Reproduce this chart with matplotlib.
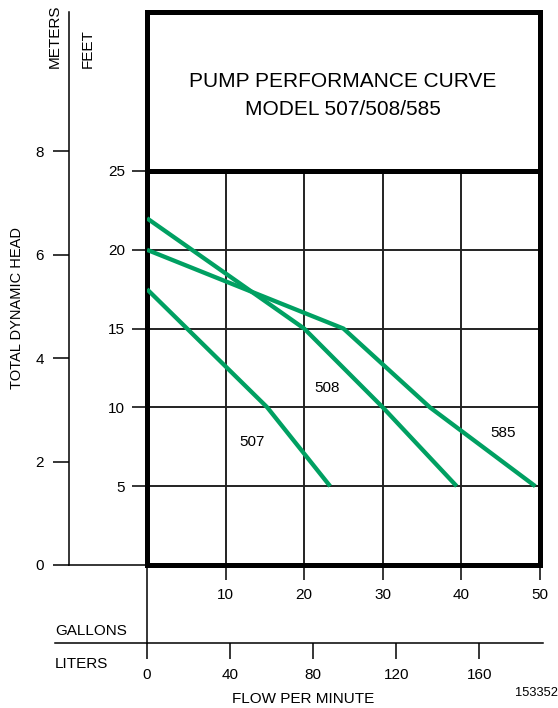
import matplotlib.pyplot as plt

plt.rcParams['font.family'] = ['Liberation Sans', 'DejaVu Sans']

# data (gallons per minute vs total dynamic head in feet)
gal_ticks = [10, 20, 30, 40, 50]
feet_ticks = [5, 10, 15, 20, 25]
meter_ticks = [0, 2, 4, 6, 8]
liter_ticks = [0, 40, 80, 120, 160]

gal_507 = [0, 15.3, 23.3]
ft_507 = [17.5, 10, 5]
gal_508 = [0, 20, 30, 39.4]
ft_508 = [22, 15, 10, 5]
gal_585 = [0, 25, 36, 49.4]
ft_585 = [20, 15, 10, 5]

curve_labels = ['507', '508', '585']
label_gal = [13.4, 22.9, 45.3]
label_ft = [7.8, 11.2, 8.4]

GREEN = '#00a062'
W, H = 558, 708
FS = 11


def box(x0, y0, x1, y1):
    # pixel box (top-left origin) -> figure fraction rect
    return [x0 / W, 1 - y1 / H, (x1 - x0) / W, (y1 - y0) / H]


fig = plt.figure(figsize=(W / 100, H / 100), dpi=100)

# main chart
ax = fig.add_axes(box(147, 171, 540, 565))
ax.set_xlim(0, 50)
ax.set_ylim(0, 25)
for g in gal_ticks[:-1]:
    ax.axvline(g, color='#222222', lw=1.4, zorder=1)
for f in feet_ticks[:-1]:
    ax.axhline(f, color='#222222', lw=1.4, zorder=1)
for gx, fy in [(gal_507, ft_507), (gal_508, ft_508), (gal_585, ft_585)]:
    ax.plot(gx, fy, color=GREEN, lw=3.1, solid_capstyle='butt',
            solid_joinstyle='round', zorder=3)
for lab, gx, fy in zip(curve_labels, label_gal, label_ft):
    ax.text(gx, fy, lab, ha='center', va='center', fontsize=FS)
for s in ax.spines.values():
    s.set_linewidth(3.6)
ax.set_xticks(gal_ticks)
ax.set_yticks(feet_ticks)
ax.tick_params(axis='x', direction='out', length=10.8, width=1.1, pad=5.5, labelsize=FS)
ax.tick_params(axis='y', direction='out', length=10.8, width=1.1, pad=5, labelsize=FS)

# title box
axt = fig.add_axes(box(147, 12, 540, 171))
axt.set_xticks([])
axt.set_yticks([])
for s in axt.spines.values():
    s.set_linewidth(3.6)
fig.text(343 / W, 1 - 87 / H, 'PUMP PERFORMANCE CURVE', ha='center', va='baseline', fontsize=15)
fig.text(343 / W, 1 - 115 / H, 'MODEL 507/508/585', ha='center', va='baseline', fontsize=15)

# meters axis
top_m = 25 / 394 * 553 * 0.3048
axm = fig.add_axes(box(69, 12, 147, 565))
axm.set_ylim(0, top_m)
axm.set_xlim(0, 1)
axm.spines['top'].set_visible(False)
axm.spines['right'].set_visible(False)
axm.spines['left'].set_linewidth(1.1)
axm.spines['bottom'].set_linewidth(1.1)
axm.set_xticks([])
axm.set_yticks(meter_ticks)
axm.tick_params(axis='y', direction='out', length=11.5, width=1.1, pad=6.5, labelsize=FS)
axm.patch.set_alpha(0)

# liters axis
l_per_px = 50 * 3.785411784 / 393
axl = fig.add_axes(box(55, 565, 543, 643))
axl.set_xlim(-(147 - 55) * l_per_px, (543 - 147) * l_per_px)
axl.set_ylim(0, 1)
for k in ['top', 'right', 'left']:
    axl.spines[k].set_visible(False)
axl.spines['bottom'].set_linewidth(1.1)
axl.plot([0, 0], [0, 1], color='black', lw=1.1, clip_on=False)
axl.set_yticks([])
axl.set_xticks(liter_ticks)
axl.tick_params(axis='x', direction='out', length=11.5, width=1.1, pad=6.5, labelsize=FS)
axl.patch.set_alpha(0)

# labels
fig.text(55 / W, 1 - 68 / H, 'METERS', rotation=90, ha='center', va='bottom', fontsize=FS)
fig.text(88 / W, 1 - 68 / H, 'FEET', rotation=90, ha='center', va='bottom', fontsize=FS)
fig.text(17 / W, 1 - 308 / H, 'TOTAL DYNAMIC HEAD', rotation=90, ha='center',
         va='center', fontsize=10.5)
fig.text(55 / W, 1 - 635 / H, 'GALLONS', ha='left', va='baseline', fontsize=FS)
fig.text(55 / W, 1 - 668 / H, 'LITERS', ha='left', va='baseline', fontsize=FS)
fig.text(303 / W, 1 - 703 / H, 'FLOW PER MINUTE', ha='center', va='baseline', fontsize=FS)
fig.text(558 / W, 1 - 696 / H, '153352', ha='right', va='baseline', fontsize=9.3)

fig.savefig('out.png', dpi=100)
